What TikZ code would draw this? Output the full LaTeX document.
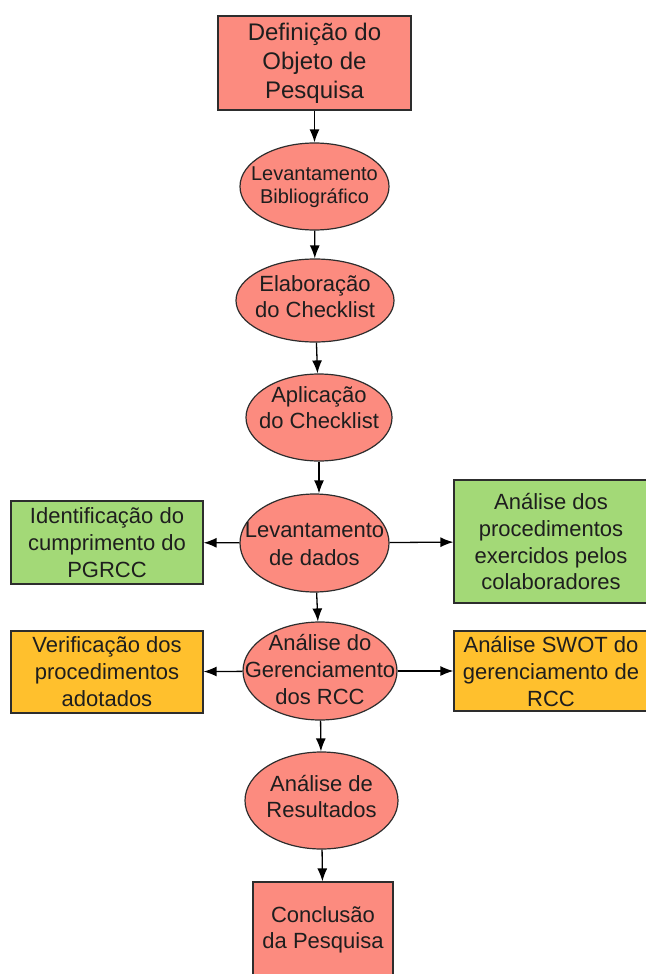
\documentclass[tikz,border=0pt]{standalone}
\usepackage{fontspec}
\setmainfont{Liberation Sans}
\usepackage{tikz}
\usetikzlibrary{shapes.geometric, arrows.meta, positioning}
\usepackage{color}
\definecolor{Salmon-1}{RGB}{252,139,127}
\definecolor{Green-1}{RGB}{163,217,119}
\definecolor{Orange-1}{RGB}{255,192,45}
\definecolor{Edge-1}{RGB}{45,45,45}
\definecolor{Ink-1}{RGB}{30,30,30}
% text of an ellipse: takes no room, so the ellipse keeps its own size
\newcommand{\elltext}[2][-6pt]{\makebox[0pt]{\smash{\raisebox{#1}{\begin{tabular}{@{}c@{}}#2\end{tabular}}}}}

\begin{document}
\begin{tikzpicture}[x=1pt, y=-1pt]
      \tikzset{ redbox/.style   ={draw=Edge-1, rectangle, line width=1.2pt, text=Ink-1, fill=Salmon-1, align=center, inner sep=0pt} }
      \tikzset{ redell/.style   ={draw=Edge-1, ellipse,   line width=1.2pt, text=Ink-1, fill=Salmon-1, inner sep=0pt} }
      \tikzset{ greenbox/.style ={draw=Edge-1, rectangle, line width=1.2pt, text=Ink-1, fill=Green-1,  align=center, inner sep=0pt} }
      \tikzset{ orangebox/.style={draw=Edge-1, rectangle, line width=1.2pt, text=Ink-1, fill=Orange-1, align=center, inner sep=0pt} }
      \tikzset{ flow/.style     ={-{Latex[length=13pt, width=10pt]}, line width=1.3pt, draw=black} }

      \useasboundingbox (0,0) rectangle (645,974);

      \node[redbox, minimum width=193, minimum height=94, font=\fontsize{24}{29}\selectfont] (obj_pesq) at (314.5, 63.0) {Definição do\\Objeto de\\Pesquisa};

      \node[redell, minimum width=149, minimum height=87, font=\fontsize{20}{23}\selectfont] (lev_bib)   at (314.5, 186.5) {\elltext{Levantamento\\Bibliográfico}};
      \node[redell, minimum width=158, minimum height=83, font=\fontsize{22}{26}\selectfont] (elab_chk)  at (315.0, 300.5) {\elltext[-4pt]{Elaboração\\do Checklist}};
      \node[redell, minimum width=146, minimum height=87, font=\fontsize{22}{26}\selectfont] (apl_chk)   at (319.0, 417.5) {\elltext[2pt]{Aplicação\\do Checklist}};
      \node[redell, minimum width=149, minimum height=98, font=\fontsize{22}{28}\selectfont] (lev_dados) at (314.5, 543.0) {\elltext[-8pt]{Levantamento\\de dados}};
      \node[redell, minimum width=154, minimum height=98, font=\fontsize{22}{27}\selectfont] (an_ger)    at (320.0, 671.0) {\elltext{Análise do\\Gerenciamento\\dos RCC}};
      \node[redell, minimum width=153, minimum height=97, font=\fontsize{22}{26}\selectfont] (an_res)    at (321.5, 800.5) {\elltext[-4pt]{Análise de\\Resultados}};

      \node[redbox, minimum width=140, minimum height=96, font=\fontsize{22}{26}\selectfont] (concl) at (323.0, 930.0) {Conclusão\\da Pesquisa};

      \node[greenbox,  minimum width=192, minimum height=83,  font=\fontsize{22}{27}\selectfont] (id_pgrcc) at (107.0, 542.5) {Identificação do\\cumprimento do\\PGRCC};
      \node[greenbox,  minimum width=194, minimum height=123, font=\fontsize{22}{27}\selectfont] (an_proc)  at (551.0, 541.5) {Análise dos\\procedimentos\\exercidos pelos\\colaboradores};
      \node[orangebox, minimum width=192, minimum height=82,  font=\fontsize{22}{27}\selectfont] (ver_proc) at (107.0, 672.0) {Verificação dos\\procedimentos\\adotados};
      \node[orangebox, minimum width=194, minimum height=80,  font=\fontsize{22}{27}\selectfont] (an_swot)  at (551.0, 671.0) {Análise SWOT do\\gerenciamento de\\RCC};

      \draw[flow] (obj_pesq)  -- (lev_bib);
      \draw[flow] (lev_bib)   -- (elab_chk);
      \draw[flow] (elab_chk)  -- (apl_chk);
      \draw[flow] (apl_chk.south) -- (apl_chk.south |- lev_dados.north);
      \draw[flow] (lev_dados) -- (an_ger);
      \draw[flow] (an_ger)    -- (an_res);
      \draw[flow] (an_res)    -- (concl);

      \draw[flow] (lev_dados) -- (id_pgrcc);
      \draw[flow] (lev_dados) -- (an_proc);
      \draw[flow] (an_ger)    -- (ver_proc);
      \draw[flow] (an_ger)    -- (an_swot);
    \end{tikzpicture}
\end{document}
